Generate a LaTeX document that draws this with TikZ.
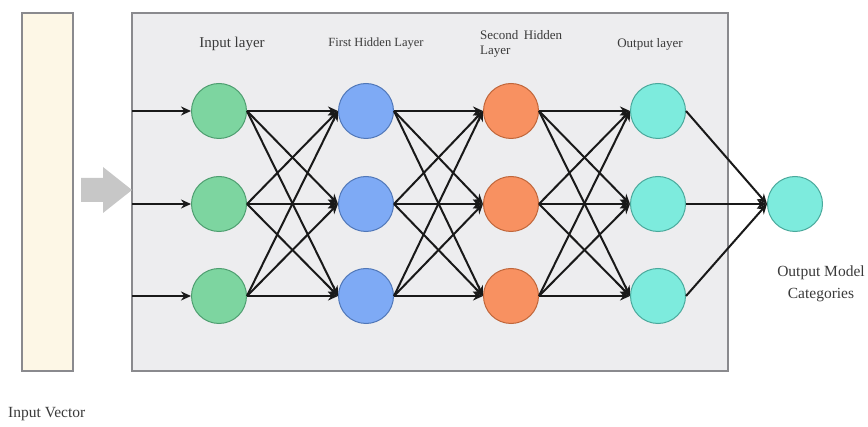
\documentclass[tikz,border=0pt]{standalone}
\usepackage{fontspec}
\setmainfont{Liberation Serif}
\usetikzlibrary{arrows.meta}
\definecolor{ngreen}{HTML}{7DD5A0}
\definecolor{ngreenD}{HTML}{4E9E70}
\definecolor{nblue}{HTML}{7EAAF5}
\definecolor{nblueD}{HTML}{5077B8}
\definecolor{norange}{HTML}{F89161}
\definecolor{norangeD}{HTML}{C0663A}
\definecolor{ncyan}{HTML}{7DEBDD}
\definecolor{ncyanD}{HTML}{4AA99C}
\definecolor{boxfill}{HTML}{EDEDEF}
\definecolor{boxline}{HTML}{8A8A8E}
\definecolor{vecfill}{HTML}{FDF7E6}
\definecolor{txt}{HTML}{3A3A3A}
\tikzset{
  neuron/.style={circle, minimum size=55pt, inner sep=0pt, line width=1pt},
  conn/.style={line width=2pt, black!90, -{Stealth[length=10pt,width=9pt]}},
  lbl/.style={text=txt, font=\fontsize{12.5}{13}\selectfont, inner sep=0pt},
}
\begin{document}
\begin{tikzpicture}[x=1pt,y=1pt]
\useasboundingbox (0,0) rectangle (868,426);
% input vector
\node[draw=boxline, fill=vecfill, line width=1.2pt, minimum width=51pt, minimum height=358pt, inner sep=0pt] (vec) at (47.5,234) {};
% main box
\node[draw=boxline, fill=boxfill, line width=1.2pt, minimum width=596pt, minimum height=358pt, inner sep=0pt] (box) at (430,234) {};
% gray block arrow
\fill[black!22] (81,248) -- (103,248) -- (103,259) -- (132,236) -- (103,213) -- (103,224) -- (81,224) -- cycle;
% labels
\node[lbl, font=\fontsize{15}{16}\selectfont] (l1) at (232,382) {Input layer};
\node[lbl] (l2) at (376,382) {First Hidden Layer};
\node[lbl, align=left, anchor=north west, font=\fontsize{13}{15}\selectfont] (l3) at (480,396) {Second\, Hidden\\Layer};
\node[lbl, font=\fontsize{13}{14}\selectfont] (l4) at (650,382) {Output layer};
\node[lbl, align=center, font=\fontsize{15.5}{22}\selectfont] (l5) at (821,142) {Output Model\\Categories};
\node[lbl, anchor=west, font=\fontsize{15.5}{16}\selectfont] (l6) at (8,12) {Input Vector};
% neurons
\foreach \r/\y in {1/315,2/222,3/130}{
  \node[neuron, draw=ngreenD, fill=ngreen] (a\r) at (219,\y) {};
  \node[neuron, draw=nblueD, fill=nblue] (b\r) at (366,\y) {};
  \node[neuron, draw=norangeD, fill=norange] (c\r) at (511,\y) {};
  \node[neuron, draw=ncyanD, fill=ncyan] (d\r) at (658,\y) {};
  \coordinate (in\r) at (132,\y);
}
\node[neuron, draw=ncyanD, fill=ncyan] (out) at (795,222) {};
% connections
\foreach \r in {1,2,3}{
  \draw[conn] (in\r) -- (a\r.west);
  \draw[conn] (d\r.east) -- (out.west);
  \foreach \s in {1,2,3}{
    \draw[conn] (a\r.east) -- (b\s.west);
    \draw[conn] (b\r.east) -- (c\s.west);
    \draw[conn] (c\r.east) -- (d\s.west);
  }
}
\end{tikzpicture}
\end{document}
